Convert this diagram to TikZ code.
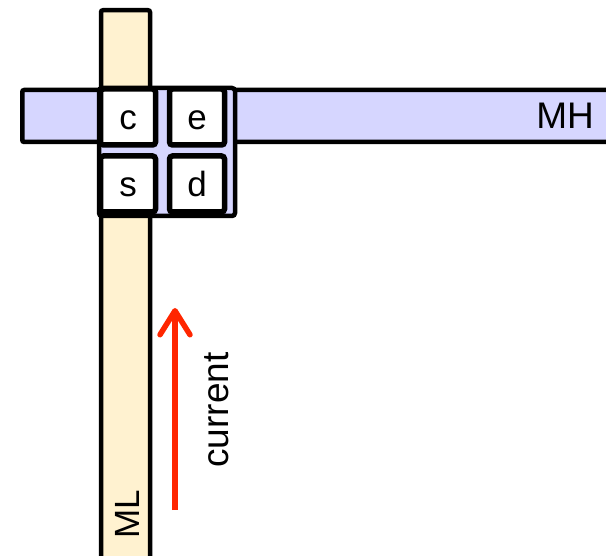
\documentclass[tikz,border=0pt]{standalone}
\usepackage{fontspec}
\setmainfont{Liberation Sans}
\usetikzlibrary{arrows.meta}
\definecolor{mlfill}{RGB}{255, 242, 208}
\definecolor{mhfill}{RGB}{214, 214, 255}
\definecolor{flow}{RGB}{255, 38, 0}

\begin{document}
\begin{tikzpicture}[x=1pt, y=-1pt,
      bar/.style={rectangle, draw=black, line width=4.5pt, rounded corners=2pt, inner sep=0pt},
      cell/.style={rectangle, draw=black, fill=white, line width=5.5pt, rounded corners=3pt,
         minimum width=55pt, minimum height=56pt, inner sep=0pt, text height=26pt, text depth=0pt,
         font=\fontsize{35}{42}\selectfont},
      tag/.style={inner sep=0pt, font=\fontsize{37}{44}\selectfont},
      arrow/.style={line width=5.5pt, draw=flow, -{Straight Barb[length=24pt, width=30pt, round]}}
   ]
      \useasboundingbox (0,0) rectangle (606,556);

      % metal lines
      \node (ml) [bar, fill=mlfill, minimum width=49pt, minimum height=580pt, anchor=north] at (125.5,8) {};
      \node (mh) [bar, fill=mhfill, minimum width=620pt, minimum height=52pt, anchor=west] at (20,116) {};

      % via block with its four cells
      \node (via) [bar, fill=mhfill, rounded corners=3pt, minimum width=136pt, minimum height=128pt] at (167,152) {};
      \node (c) [cell] at (128,117) {c};
      \node (e) [cell] at (197,117) {e};
      \node (s) [cell] at (128,184) {s};
      \node (d) [cell] at (197,184) {d};

      % labels
      \node (mhlabel) [tag, anchor=east] at (594,116) {MH};
      \node (mllabel) [tag, rotate=90, font=\fontsize{35}{42}\selectfont] at (127,514) {ML};

      % current direction
      \coordinate (flowstart) at (175,510);
      \coordinate (flowend) at (175,308);
      \draw[arrow] (flowstart) -- (flowend);
      \node (current) [tag, rotate=90] at (217,410) {current};
   \end{tikzpicture}
\end{document}
